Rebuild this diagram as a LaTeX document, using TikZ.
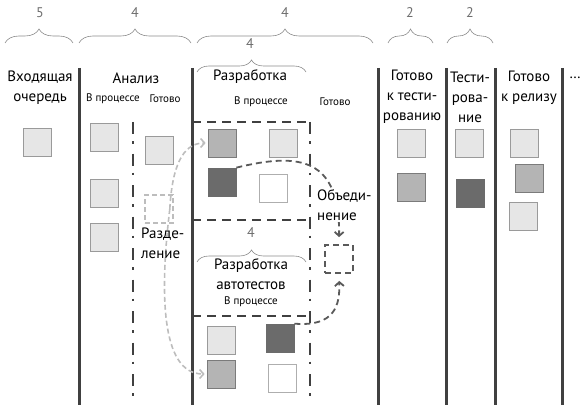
\documentclass[tikz,border=0pt]{standalone}
\usepackage{fontspec}
\setmainfont{PT Sans}
\usepackage{tikz}
\usetikzlibrary{decorations.pathreplacing,arrows.meta}

\definecolor{linegray}{HTML}{404040}
\definecolor{bracegray}{HTML}{8C8C8C}
\definecolor{numgray}{HTML}{6E6E6E}
\definecolor{cardlight}{HTML}{E6E6E6}
\definecolor{cardmid}{HTML}{B4B4B4}
\definecolor{carddark}{HTML}{6B6B6B}
\definecolor{cardedge}{HTML}{9A9A9A}
\definecolor{splitgray}{HTML}{BDBDBD}
\definecolor{mergegray}{HTML}{5A5A5A}

\begin{document}
\begin{tikzpicture}[x=1pt,y=1pt,
  col/.style={line width=3pt,linegray},
  sepline/.style={line width=2.5pt,linegray,dash pattern=on 12pt off 7pt on 2.5pt off 10pt},
  boxline/.style={line width=2.5pt,linegray,dash pattern=on 9pt off 6pt},
  wip/.style={decorate,decoration={brace,amplitude=#1},line width=0.6pt,bracegray},
  wip/.default=14pt,
  num/.style={font=\fontsize{14}{16}\selectfont,text=numgray},
  head/.style={font=\fontsize{15}{20}\selectfont,align=center,inner sep=0pt},
  sub/.style={font=\fontsize{11}{12}\selectfont,inner sep=0pt},
  card/.style={draw=cardedge,line width=0.7pt,fill=cardlight,minimum size=28pt,inner sep=0pt},
  midcard/.style={card,fill=cardmid,draw=cardedge!80!black},
  darkcard/.style={card,fill=carddark,draw=carddark},
  whitecard/.style={card,fill=white,draw=cardedge!80},
  splitline/.style={line width=1.6pt,splitgray,dash pattern=on 5pt off 3pt,-{Straight Barb[length=4pt,width=9pt]}},
  mergeline/.style={line width=1.8pt,mergegray,dash pattern=on 6pt off 4pt,-{Straight Barb[length=4pt,width=9pt]}}]
  \useasboundingbox (0,0) rectangle (587,-412);

  \draw[wip] (5,-43) -- (73,-43);
  \draw[wip] (79,-43) -- (191,-43);
  \draw[wip] (197,-43) -- (373,-43);
  \draw[wip] (388,-43) -- (433,-43);
  \draw[wip] (447,-43) -- (493,-43);
  \draw[wip=12pt] (197,-72) -- (306,-72);
  \draw[wip=12pt] (197,-262) -- (306,-262);
  \node (n1) at (40,-13) [num] {5};
  \node (n2) at (135,-13) [num] {4};
  \node (n3) at (285,-13) [num] {4};
  \node (n4) at (410,-13) [num] {2};
  \node (n5) at (470,-13) [num] {2};
  \node (n6) at (250,-44) [num] {4};
  \node (n7) at (251,-233) [num] {4};

  \foreach \x in {79,192,378,446,495,562}
    \draw[col] (\x,-68) -- (\x,-405);
  \draw[sepline] (133,-122) -- (133,-405);
  \draw[sepline] (310,-122) -- (310,-405);
  \draw[boxline] (192,-122) -- (310,-122);
  \draw[boxline] (192,-220) -- (310,-220);
  \draw[boxline] (192,-316) -- (310,-316);

  \node (hq) at (40,-88) [head] {Входящая\\очередь};
  \node (ha) at (136,-78) [head] {Анализ};
  \node (ha1) at (113,-99) [sub] {В процессе};
  \node (ha2) at (165,-99) [sub] {Готово};
  \node (hd) at (250,-77) [head] {Разработка};
  \node (hd1) at (261,-102) [sub] {В процессе};
  \node (hd2) at (335,-102) [sub] {Готово};
  \node (hr) at (412,-97) [head] {Готово\\к тести-\\рованию};
  \node (ht) at (470,-97) [head] {Тести-\\рова-\\ние};
  \node (hp) at (529,-88) [head] {Готово\\к релизу};
  \node (hx) at (575,-78) [head] {…};
  \node (hat) at (251,-274) [head] {Разработка\\автотестов};
  \node (hat1) at (251,-302) [sub] {В процессе};

  \node (q1) at (37,-142) [card] {};
  \node (a1) at (104,-137) [card] {};
  \node (a2) at (104,-193) [card] {};
  \node (a3) at (104,-237) [card] {};
  \node (a4) at (159,-150) [card] {};
  \node (split) at (159,-209) [card,fill=none,draw=splitgray,line width=1.6pt,dash pattern=on 5pt off 3pt] {};
  \node (d1) at (222,-143) [midcard] {};
  \node (d2) at (283,-143) [card] {};
  \node (d3) at (222,-182) [darkcard] {};
  \node (d4) at (273,-188) [whitecard] {};
  \node (t1) at (221,-340) [card] {};
  \node (t2) at (280,-338) [darkcard] {};
  \node (t3) at (221,-374) [midcard] {};
  \node (t4) at (282,-378) [whitecard] {};
  \node (merge) at (339,-259) [card,fill=none,draw=mergegray,line width=1.8pt,dash pattern=on 6pt off 4pt] {};
  \node (r1) at (411,-143) [card] {};
  \node (r2) at (411,-187) [midcard] {};
  \node (s1) at (469,-143) [card] {};
  \node (s2) at (470,-193) [darkcard] {};
  \node (p1) at (524,-143) [card] {};
  \node (p2) at (529,-178) [midcard] {};
  \node (p3) at (523,-216) [card] {};

  \draw[splitline,shorten >=2pt] ([xshift=-4pt]split.east) .. controls (172,-168) and (182,-143) .. (d1.west);
  \draw[splitline,shorten >=2pt] ([xshift=-4pt]split.east) .. controls (160,-290) and (160,-374) .. (t3.west);
  \draw[mergeline,shorten >=7pt] (d3.north east) .. controls (300,-152) and (340,-158) .. (merge.north);
  \draw[mergeline,shorten >=7pt] (t2.north east) .. controls (335,-327) and (340,-305) .. (merge.south);

  \node (sl) at (141,-243) [head,anchor=west,align=left] {Разде-\\ление};
  \node (ml) at (316,-205) [head,anchor=west,align=left,fill=white,inner sep=1pt] {Объеди-\\нение};
\end{tikzpicture}
\end{document}
